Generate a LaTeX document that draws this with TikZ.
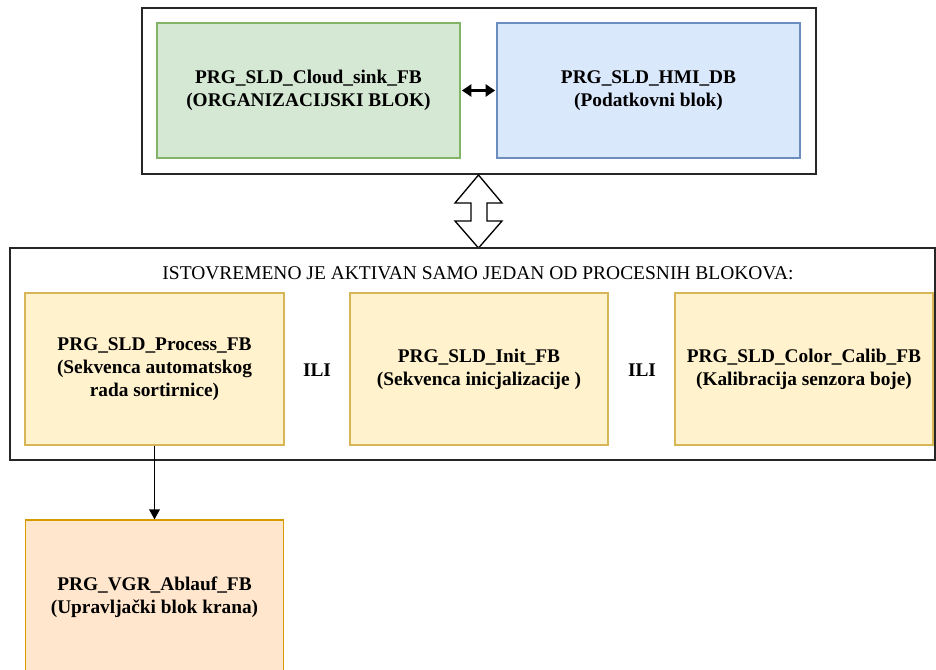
\documentclass[tikz,border=0pt]{standalone}
\usepackage{fontspec}
\setmainfont{Liberation Serif}
\usetikzlibrary{arrows.meta}
\definecolor{gfill}{HTML}{D5E8D4}\definecolor{gline}{HTML}{82B366}
\definecolor{bfill}{HTML}{DAE8FC}\definecolor{bline}{HTML}{6C8EBF}
\definecolor{yfill}{HTML}{FFF2CC}\definecolor{yline}{HTML}{D6B656}
\definecolor{ofill}{HTML}{FFE6CC}\definecolor{oline}{HTML}{D79B00}
\begin{document}
\begin{tikzpicture}[x=0.75pt,y=-0.75pt,
  blk/.style={draw, line width=0.9pt, minimum width=#1*0.75pt, align=center, inner sep=0pt,
    font=\fontsize{14.5}{17.25}\selectfont\bfseries},
  frame/.style={draw=black!85, line width=1pt},
  conn/.style={line width=1pt, -{Triangle[length=7.5pt,width=8pt]}}]
\useasboundingbox (0,0) rectangle (936,670);
% top frame
\draw[frame] (142,8) rectangle (816,174);
\node[blk=303, minimum height=135*0.75pt, fill=gfill, draw=gline] (cloud) at (308.5,90.5)
  {PRG\_SLD\_Cloud\_sink\_FB\\(ORGANIZACIJSKI BLOK)};
\node[blk=303, minimum height=135*0.75pt, fill=bfill, draw=bline] (hmi) at (648.5,90.5)
  {PRG\_SLD\_HMI\_DB\\(Podatkovni blok)};
\draw[line width=1.6pt, {Triangle[length=7pt,width=9pt]}-{Triangle[length=7pt,width=9pt]}] ([xshift=1pt]cloud.east) -- ([xshift=-1pt]hmi.west);
% block double arrow
\draw[line width=1pt, fill=white, line join=miter]
  (478.5,175) -- (502,203) -- (487,203) -- (487,221) -- (502,221) -- (478.5,248)
  -- (455,221) -- (471,221) -- (471,203) -- (455,203) -- cycle;
% lower frame
\draw[frame] (10,248) rectangle (935,460);
\node[font=\fontsize{14.6}{16}\selectfont, inner sep=0pt] (hdr) at (478,273)
  {ISTOVREMENO JE AKTIVAN SAMO JEDAN OD PROCESNIH BLOKOVA:};
\node[blk=259, minimum height=152*0.75pt, fill=yfill, draw=yline] (proc) at (154.5,369)
  {PRG\_SLD\_Process\_FB\\(Sekvenca automatskog\\rada sortirnice)};
\node[blk=258, minimum height=152*0.75pt, fill=yfill, draw=yline] (init) at (479,369)
  {PRG\_SLD\_Init\_FB\\(Sekvenca inicjalizacije )};
\node[blk=258, minimum height=152*0.75pt, fill=yfill, draw=yline] (calib) at (804,369)
  {PRG\_SLD\_Color\_Calib\_FB\\(Kalibracija senzora boje)};
\node[font=\fontsize{14.5}{16}\selectfont\bfseries] (ili1) at (317,370) {ILI};
\node[font=\fontsize{14.5}{16}\selectfont\bfseries] (ili2) at (642,370) {ILI};
% bottom box
\node[blk=258, minimum height=154*0.75pt, fill=ofill, draw=oline] (vgr) at (154.5,597)
  {PRG\_VGR\_Ablauf\_FB\\(Upravljački blok krana)};
\draw[conn] (proc.south) -- (vgr.north);
\end{tikzpicture}
\end{document}
